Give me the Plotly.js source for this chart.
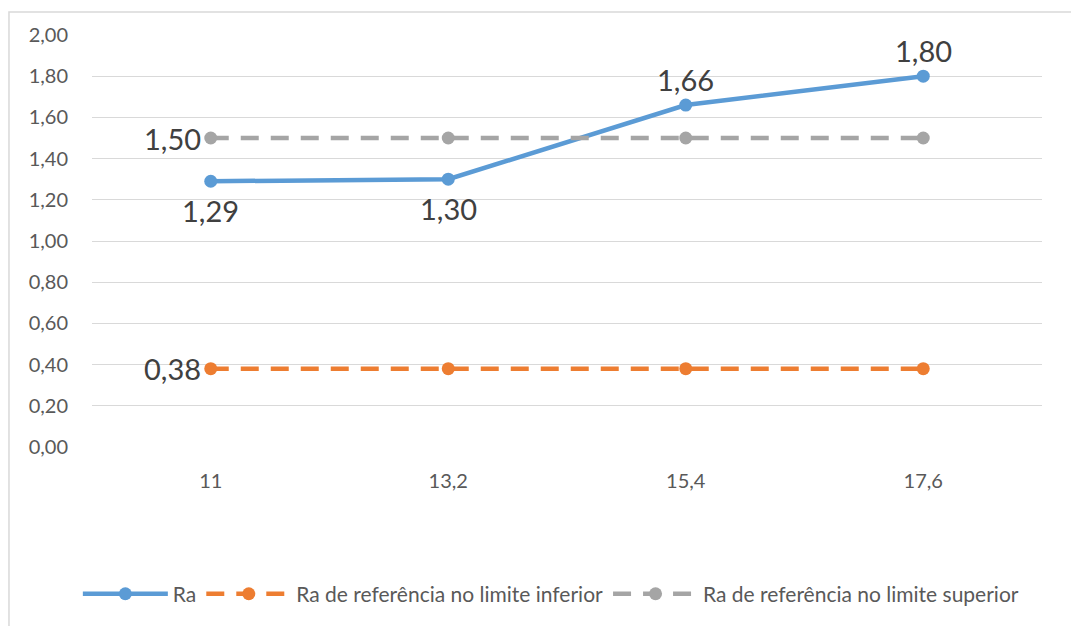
<!DOCTYPE html>
<html>
<head>
<meta charset="utf-8">
<script src="https://cdn.plot.ly/plotly-3.0.1.min.js"></script>
<style>html,body{margin:0;padding:0;background:#fff;}#chart{width:1071px;height:626px;}</style>
</head>
<body>
<div id="chart"></div>
<script>
var categories = ['11', '13,2', '15,4', '17,6'];
var raValues = [1.29, 1.30, 1.66, 1.80];
var lowerRef = [0.38, 0.38, 0.38, 0.38];
var upperRef = [1.50, 1.50, 1.50, 1.50];
var seriesNames = ['Ra', 'Ra de referência no limite inferior', 'Ra de referência no limite superior'];
var raLabelBelow = [true, true, false, false];

function fmt(v) { return v.toFixed(2).replace('.', ','); }

var FONT = 'Lato, "Open Sans", sans-serif';
var labelFont = {family: FONT, size: 29, color: '#404040'};

var traces = [
  {
    x: categories, y: raValues, name: seriesNames[0], type: 'scatter', mode: 'lines+markers',
    line: {color: '#5b9bd5', width: 4.5},
    marker: {color: '#5b9bd5', size: 13}, cliponaxis: false
  },
  {
    x: categories, y: lowerRef, name: seriesNames[1], type: 'scatter', mode: 'lines+markers',
    line: {color: '#ed7d31', width: 4.5, dash: '18px,12px'},
    marker: {color: '#ed7d31', size: 13}, cliponaxis: false
  },
  {
    x: categories, y: upperRef, name: seriesNames[2], type: 'scatter', mode: 'lines+markers',
    line: {color: '#a5a5a5', width: 4.5, dash: '18px,12px'},
    marker: {color: '#a5a5a5', size: 13}, cliponaxis: false
  }
];

// annotations on a category axis use the category index
var annotations = [];
raValues.forEach(function (v, i) {
  annotations.push({
    x: categories.indexOf(categories[i]), y: v, xref: 'x', yref: 'y', text: fmt(v), showarrow: false,
    font: labelFont, xanchor: 'center', yanchor: 'middle',
    yshift: raLabelBelow[i] ? -29 : 26
  });
});
annotations.push({
  x: 0, y: lowerRef[0], xref: 'x', yref: 'y', text: fmt(lowerRef[0]), showarrow: false,
  font: labelFont, xanchor: 'right', yanchor: 'middle', xshift: -8
});
annotations.push({
  x: 0, y: upperRef[0], xref: 'x', yref: 'y', text: fmt(upperRef[0]), showarrow: false,
  font: labelFont, xanchor: 'right', yanchor: 'middle', xshift: -8
});

var layout = {
  width: 1071, height: 626,
  margin: {l: 92, r: 29, t: 35, b: 177},
  paper_bgcolor: '#ffffff', plot_bgcolor: '#ffffff',
  separators: ',.',
  font: {family: FONT, size: 20, color: '#595959'},
  showlegend: true,
  legend: {
    orientation: 'h', x: 0.483, xanchor: 'center', y: -0.357, yanchor: 'middle',
    font: {family: FONT, size: 21, color: '#595959'}, itemwidth: 85, traceorder: 'normal'
  },
  xaxis: {
    type: 'category', categoryorder: 'array', categoryarray: categories,
    range: [-0.5, 3.5], showgrid: false, zeroline: false, showline: false,
    ticks: '', tickfont: {family: FONT, size: 20, color: '#595959'}, ticklabelstandoff: 20
  },
  yaxis: {
    range: [0, 2], dtick: 0.2, tick0: 0, tickformat: '.2f',
    showgrid: true, gridcolor: '#d9d9d9', gridwidth: 1,
    zeroline: false, showline: false, ticks: '',
    tickfont: {family: FONT, size: 20, color: '#595959'}, ticklabelstandoff: 23
  },
  annotations: annotations,
  shapes: [
    {type: 'rect', xref: 'paper', yref: 'paper', x0: -0.0874, x1: 1.2, y0: -0.6, y1: 1.0556,
     line: {color: '#d9d9d9', width: 1.5}, fillcolor: 'rgba(0,0,0,0)', layer: 'below'}
  ]
};

Plotly.newPlot('chart', traces, layout, {displayModeBar: false, staticPlot: true});
</script>
</body>
</html>
